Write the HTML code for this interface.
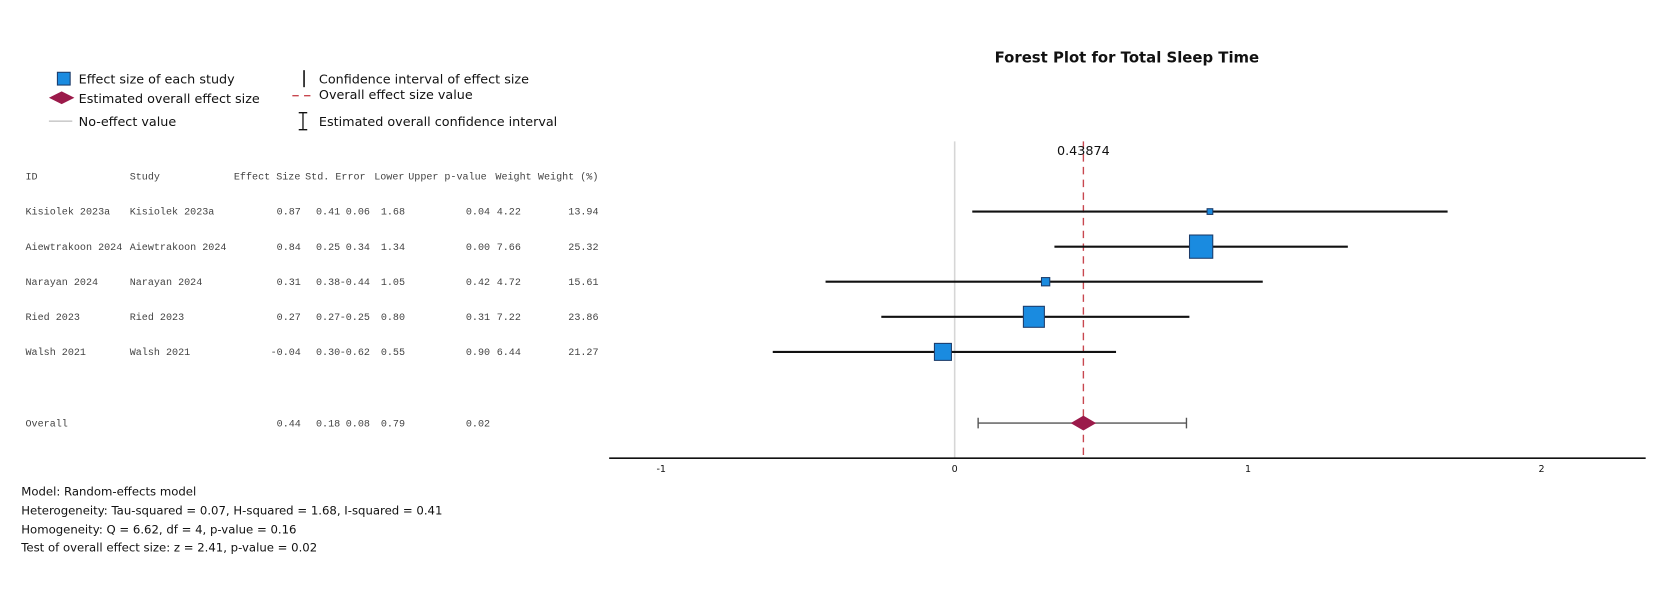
<!DOCTYPE html>
<html><head><meta charset="utf-8">
<style>
html,body{margin:0;padding:0;background:#fff;}
svg{display:block;}
.mono{font-family:"Liberation Mono",monospace;font-size:9.5px;fill:#444;}
.sans{font-family:"DejaVu Sans","Liberation Sans",sans-serif;}
</style></head>
<body>
<svg id="c" width="1667" height="599" xmlns="http://www.w3.org/2000/svg">
 <g transform="scale(1.0631)">
  <text x="1060" y="59" text-anchor="middle" class="sans" font-size="14" font-weight="bold" fill="#111">Forest Plot for Total Sleep Time</text>
  <g class="sans" font-size="12" fill="#111">
    <rect x="54" y="68" width="12" height="12" fill="#1a8be0" stroke="#1c3c6a" stroke-width="1"/>
    <text x="74" y="78.5">Effect size of each study</text>
    <polygon points="46,92 58,86 70,92 58,98" fill="#9b1a4a"/>
    <text x="74" y="97">Estimated overall effect size</text>
    <line x1="46" y1="114" x2="68" y2="114" stroke="#ccc" stroke-width="1.5"/>
    <text x="74" y="118.5">No-effect value</text>
    <line x1="286" y1="66" x2="286" y2="82" stroke="#111" stroke-width="1.5"/>
    <text x="300" y="78.5">Confidence interval of effect size</text>
    <line x1="275" y1="90" x2="297" y2="90" stroke="#c8474f" stroke-width="1.2" stroke-dasharray="6,5"/>
    <text x="300" y="93">Overall effect size value</text>
    <path d="M281 106 H289 M285 106 V122 M281 122 H289" stroke="#111" stroke-width="1.2" fill="none"/>
    <text x="300" y="118.5">Estimated overall confidence interval</text>
  </g>
  <g id="table"></g>
  <g id="plot"></g>
  <g class="sans" font-size="11" fill="#111">
    <text x="20" y="466">Model: Random-effects model</text>
    <text x="20" y="484">Heterogeneity: Tau-squared = 0.07, H-squared = 1.68, I-squared = 0.41</text>
    <text x="20" y="502">Homogeneity: Q = 6.62, df = 4, p-value = 0.16</text>
    <text x="20" y="519">Test of overall effect size: z = 2.41, p-value = 0.02</text>
  </g>
 </g>
</svg>
<script>
const studies = ["Kisiolek 2023a","Aiewtrakoon 2024","Narayan 2024","Ried 2023","Walsh 2021"];
const effect = [0.87,0.84,0.31,0.27,-0.04];
const stdErr = [0.41,0.25,0.38,0.27,0.30];
const lower = [0.06,0.34,-0.44,-0.25,-0.62];
const upper = [1.68,1.34,1.05,0.80,0.55];
const pval = [0.04,0.00,0.42,0.31,0.90];
const weight = [4.22,7.66,4.72,7.22,6.44];
const weightPct = [13.94,25.32,15.61,23.86,21.27];
const overall = {est:0.43874, es:0.44, se:0.18, lo:0.08, hi:0.79, p:0.02};
const xTicks = [-1,0,1,2];

const NS="http://www.w3.org/2000/svg";
const x = v => 898 + v*276;
const rowY = i => 199 + i*33;
const overallY = 398;
const sqSize = w => 4 + (w-13)*1.45;

function mk(tag, attrs, parent){const e=document.createElementNS(NS,tag);for(const k in attrs)e.setAttribute(k,attrs[k]);parent.appendChild(e);return e;}

const table=document.getElementById('table');
const plot=document.getElementById('plot');

const headers=[["ID",24],["Study",122],["Effect Size",220],["Std. Error",287],["Lower",352],["Upper",384],["p-value",418],["Weight",466],["Weight (%)",506]];
headers.forEach(h=>{
  const t=mk('text',{x:h[1],y:169,class:'mono'},table);t.textContent=h[0];
  
  
});
const colR=[283,320,348,381,461,490,563];
function row(y, cells, name){
  const g=mk('g',{},table);
  
  
  cells.forEach((c,j)=>{
    if(c===null)return;
    let t;
    if(j<2){t=mk('text',{x:j===0?24:122,y:y+3,class:'mono'},g);}
    else{t=mk('text',{x:colR[j-2],y:y+3,class:'mono','text-anchor':'end'},g);}
    t.textContent=c;
  });
}
studies.forEach((s,i)=>{
  row(rowY(i),[s,s,effect[i].toFixed(2),stdErr[i].toFixed(2),lower[i].toFixed(2),upper[i].toFixed(2),pval[i].toFixed(2),weight[i].toFixed(2),weightPct[i].toFixed(2)],'table-row-'+i);
});
row(overallY,["Overall",null,overall.es.toFixed(2),overall.se.toFixed(2),overall.lo.toFixed(2),overall.hi.toFixed(2),overall.p.toFixed(2),null,null],'table-row-overall');

let e=mk('line',{x1:x(0),y1:133,x2:x(0),y2:431,stroke:'#d6d6d6','stroke-width':1.5},plot);


e=mk('line',{x1:x(overall.est),y1:133,x2:x(overall.est),y2:431,stroke:'#c8474f','stroke-width':1.3,'stroke-dasharray':'7,5'},plot);


e=mk('text',{x:x(overall.est),y:146,'text-anchor':'middle',class:'sans','font-size':12,fill:'#111'},plot);
e.textContent=overall.est.toString();



studies.forEach((s,i)=>{
  const y=rowY(i);
  let l=mk('line',{x1:x(lower[i]),y1:y,x2:x(upper[i]),y2:y,stroke:'#111','stroke-width':2},plot);
  
  
  const sz=sqSize(weightPct[i]);
  const r=mk('rect',{x:x(effect[i])-sz/2,y:y-sz/2,width:sz,height:sz,fill:'#1a8be0',stroke:'#1c3c6a','stroke-width':1},plot);
  
  
});

e=mk('path',{d:`M${x(overall.lo)} ${overallY-5} V${overallY+5} M${x(overall.lo)} ${overallY} H${x(overall.hi)} M${x(overall.hi)} ${overallY-5} V${overallY+5}`,stroke:'#555','stroke-width':1.3,fill:'none'},plot);


const cx=x(overall.est);
e=mk('polygon',{points:`${cx-12},${overallY} ${cx},${overallY-7} ${cx+12},${overallY} ${cx},${overallY+7}`,fill:'#9b1a4a'},plot);



e=mk('line',{x1:573,y1:431,x2:1548,y2:431,stroke:'#111','stroke-width':1.5},plot);


xTicks.forEach(v=>{
  const t=mk('text',{x:x(v),y:444,'text-anchor':'middle',class:'sans','font-size':9,fill:'#111'},plot);
  t.textContent=v;
  
  
});
</script>
</body></html>
